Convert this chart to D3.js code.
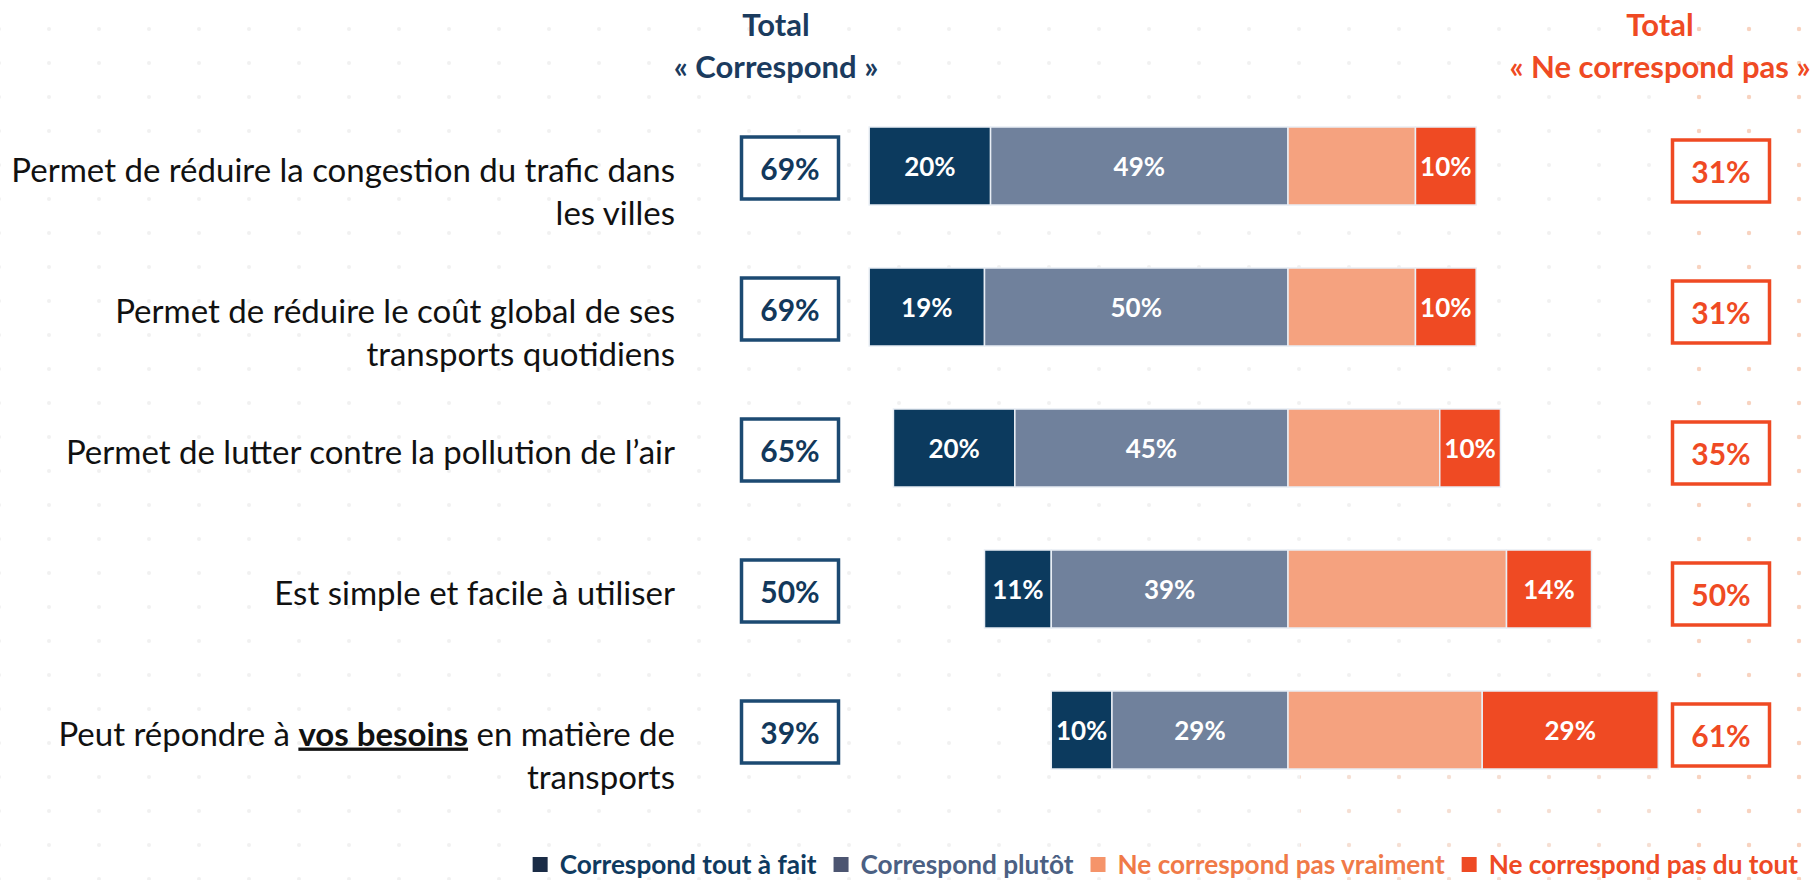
<!DOCTYPE html>
<html><head><meta charset="utf-8">
<script src="https://cdn.jsdelivr.net/npm/d3@7"></script>
<style>
html,body{margin:0;padding:0;background:#fff;}
svg{display:block;font-family:Lato,"Open Sans",sans-serif;}
</style></head>
<body>
<svg id="chart" width="1816" height="880"></svg>
<script>
const categories = [
  "Permet de réduire la congestion du trafic dans les villes",
  "Permet de réduire le coût global de ses transports quotidiens",
  "Permet de lutter contre la pollution de l’air",
  "Est simple et facile à utiliser",
  "Peut répondre à vos besoins en matière de transports"
];
// label lines: [text, bold-underlined?] segments per line
const labelLines = [
  [[["Permet de réduire la congestion du trafic dans", false]], [["les villes", false]]],
  [[["Permet de réduire le coût global de ses", false]], [["transports quotidiens", false]]],
  [[["Permet de lutter contre la pollution de l’air", false]]],
  [[["Est simple et facile à utiliser", false]]],
  [[["Peut répondre à ", false], ["vos besoins", true], [" en matière de", false]], [["transports", false]]]
];
const toutAFait   = [20, 19, 20, 11, 10];
const plutot      = [49, 50, 45, 39, 29];
const pasVraiment = [21, 21, 25, 36, 32];
const pasDuTout   = [10, 10, 10, 14, 29];
const totalCorrespond   = [69, 69, 65, 50, 39];
const totalNeCorrespond = [31, 31, 35, 50, 61];
const seriesNames = ["Correspond tout à fait", "Correspond plutôt", "Ne correspond pas vraiment", "Ne correspond pas du tout"];
const headerLeft = ["Total", "« Correspond »"];
const headerRight = ["Total", "« Ne correspond pas »"];

const colors = ["#0c3a5e", "#70819c", "#f5a27f", "#ef4a23"];
const legendSquare = ["#1a2c46", "#4c5571", "#f5946a", "#ee4a24"];
const legendText = ["#0f3a5f", "#4b6083", "#f07a48", "#ee4a24"];
const navy = "#1c4a72", red = "#ef4a23";

const svg = d3.select("#chart");

// faint decorative dot grid
const defs = svg.append("defs");
const pat = defs.append("pattern").attr("id","dots").attr("patternUnits","userSpaceOnUse")
  .attr("width",50).attr("height",34).attr("x",24).attr("y",12);
pat.append("circle").attr("cx",25).attr("cy",17).attr("r",2).attr("fill","#f1f1f1");
svg.append("rect").attr("x",0).attr("y",0).attr("width",1816).attr("height",880).attr("fill","url(#dots)");
const pat2 = defs.append("pattern").attr("id","dots2").attr("patternUnits","userSpaceOnUse")
  .attr("width",50).attr("height",34).attr("x",24).attr("y",12);
pat2.append("circle").attr("cx",25).attr("cy",17).attr("r",2.2).attr("fill","#f8d3c0");
svg.append("rect").attr("x",1690).attr("y",0).attr("width",126).attr("height",880).attr("fill","url(#dots2)");
svg.append("rect").attr("x",1300).attr("y",680).attr("width",516).attr("height",200).attr("fill","url(#dots2)").attr("opacity",0.6);

const x = d3.scaleLinear().domain([-70, 70]).range([1288 - 70*6.07, 1288 + 70*6.07]);
const y = d3.scalePoint().domain(d3.range(categories.length)).range([166, 730]);
const barH = 78;

const rows = categories.map((c, i) => ({
  i,
  segs: [
    {k:0, x0:-(toutAFait[i]+plutot[i]), x1:-plutot[i], v:toutAFait[i], label:true},
    {k:1, x0:-plutot[i], x1:0, v:plutot[i], label:true},
    {k:2, x0:0, x1:pasVraiment[i], v:pasVraiment[i], label:false},
    {k:3, x0:pasVraiment[i], x1:pasVraiment[i]+pasDuTout[i], v:pasDuTout[i], label:true}
  ]
}));

const g = svg.append("g");
const rowG = g.selectAll("g.row").data(rows).join("g").attr("class","row");

rowG.selectAll("rect.seg").data(d => d.segs.map(s => ({...s, i:d.i}))).join("rect")
  .attr("class","seg")
  .attr("x", s => x(s.x0)).attr("width", s => x(s.x1) - x(s.x0))
  .attr("y", s => y(s.i) - barH/2).attr("height", barH)
  .attr("fill", s => colors[s.k])
  .attr("stroke", "#e9eef5").attr("stroke-width", 1.5);

rowG.selectAll("text.seglab").data(d => d.segs.filter(s => s.label).map(s => ({...s, i:d.i}))).join("text")
  .attr("class","seglab")
  .attr("x", s => (x(s.x0) + x(s.x1))/2).attr("y", s => y(s.i) + 1)
  .attr("dy","0.35em").attr("text-anchor","middle")
  .attr("fill","#fff").attr("font-weight","bold").attr("font-size",26)
  .text(s => s.v + "%");

// total boxes
const boxW = 97, boxH = 62;
rowG.append("rect")
  .attr("x", 790 - boxW/2).attr("y", d => y(d.i) + 2 - boxH/2)
  .attr("width", boxW).attr("height", boxH)
  .attr("fill","#fff").attr("stroke", navy).attr("stroke-width", 3.5);
rowG.append("text")
  .attr("x", 790).attr("y", d => y(d.i) + 3).attr("dy","0.35em")
  .attr("text-anchor","middle").attr("font-weight","bold").attr("font-size",30)
  .attr("fill", "#12385b").text(d => totalCorrespond[d.i] + "%");

rowG.append("rect")
  .attr("x", 1721 - boxW/2).attr("y", d => y(d.i) + 5 - boxH/2)
  .attr("width", boxW).attr("height", boxH)
  .attr("fill","#fff").attr("stroke", red).attr("stroke-width", 3.5);
rowG.append("text")
  .attr("x", 1721).attr("y", d => y(d.i) + 6).attr("dy","0.35em")
  .attr("text-anchor","middle").attr("font-weight","bold").attr("font-size",30)
  .attr("fill", red).text(d => totalNeCorrespond[d.i] + "%");

// category labels
rowG.each(function(d){
  const lines = labelLines[d.i];
  lines.forEach((line, li) => {
    const t = d3.select(this).append("text")
      .attr("x", 675).attr("y", y(d.i) + 4 + li*43).attr("dy","0.35em")
      .attr("text-anchor","end").attr("font-size",33).attr("fill","#111");
    line.forEach(([txt, emph]) => {
      const ts = t.append("tspan").text(txt);
      if (emph) ts.attr("font-weight","bold").style("text-decoration","underline");
    });
  });
});

// headers
headerLeft.forEach((h, k) => {
  svg.append("text").attr("x", 776).attr("y", 25 + k*42).attr("dy","0.35em")
    .attr("text-anchor","middle").attr("font-weight","bold").attr("font-size",31)
    .attr("fill","#1b3b5e").text(h);
});
headerRight.forEach((h, k) => {
  svg.append("text").attr("x", 1660).attr("y", 25 + k*42).attr("dy","0.35em")
    .attr("text-anchor","middle").attr("font-weight","bold").attr("font-size",31)
    .attr("fill",red).text(h);
});

// legend, right-aligned
const lg = svg.append("g");
let cx = 0;
seriesNames.forEach((n, k) => {
  const it = lg.append("g").attr("transform", `translate(${cx},0)`);
  it.append("rect").attr("x",0).attr("y",-17).attr("width",15).attr("height",15).attr("fill",legendSquare[k]);
  const t = it.append("text").attr("x",27).attr("y",0).attr("font-weight","bold").attr("font-size",26.2)
    .attr("fill",legendText[k]).text(n);
  cx += 27 + t.node().getComputedTextLength() + 17;
});
const totalW = cx - 17;
lg.attr("transform", `translate(${1798 - totalW},874)`);
</script>
</body></html>
